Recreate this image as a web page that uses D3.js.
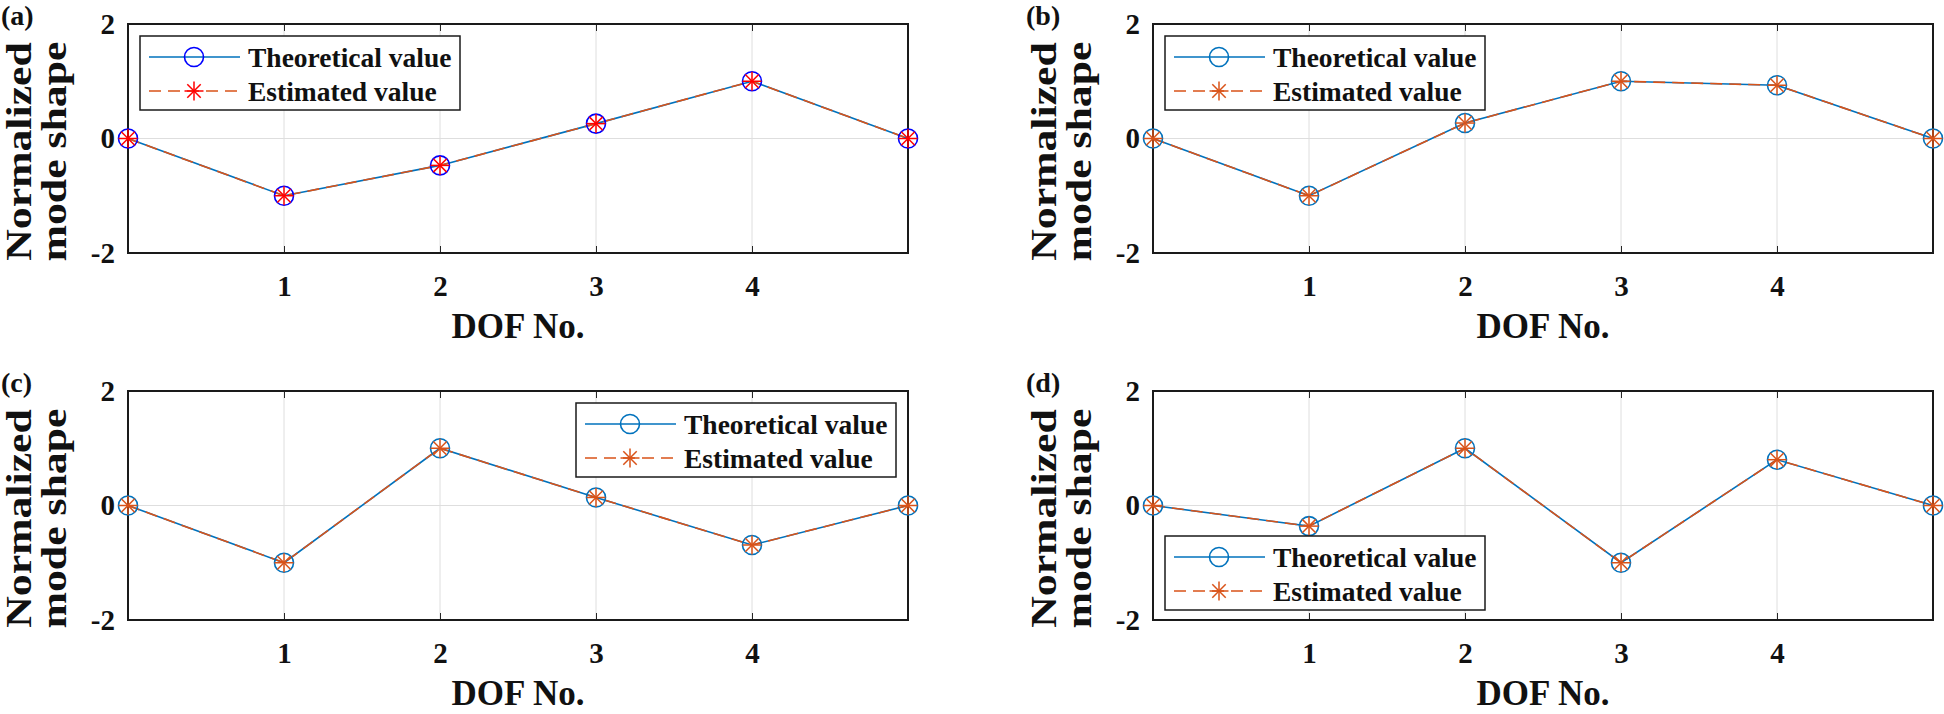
<!DOCTYPE html>
<html><head><meta charset="utf-8">
<script src="https://cdn.jsdelivr.net/npm/d3@7"></script>
<style>html,body{margin:0;padding:0;background:#fff;}svg{display:block;}
svg text{font-family:'Liberation Serif','Times New Roman',Times,serif;font-weight:bold;}</style>
</head><body>
<svg id="chart" width="1944" height="714"></svg>
<script>
// ---- data ----
const dof = [0, 1, 2, 3, 4, 5];
const xTicks = [1, 2, 3, 4];
const yTicks = [-2, 0, 2];
const panelLabels = ["(a)", "(b)", "(c)", "(d)"];
const theoA = [0, -1, -0.47, 0.26, 1, 0];
const estA  = [0, -1, -0.47, 0.26, 1, 0];
const theoB = [0, -1, 0.27, 1, 0.93, 0];
const estB  = [0, -1, 0.27, 1, 0.93, 0];
const theoC = [0, -1, 1, 0.14, -0.69, 0];
const estC  = [0, -1, 1, 0.14, -0.69, 0];
const theoD = [0, -0.36, 1, -1, 0.8, 0];
const estD  = [0, -0.36, 1, -1, 0.8, 0];
const seriesNames = ["Theoretical value", "Estimated value"];
const xLabel = "DOF No.";
const yLabelLines = ["Normalized", "mode shape"];

// ---- layout/style ----
const FONT = "'Liberation Serif','Times New Roman',Times,serif";
const PW = 780, PH = 229;
const panels = [
  {label: panelLabels[0], left: 128, top: 24, theo: theoA, est: estA, legend: "nw", mTheo: "#0000FF", mEst: "#FF0000"},
  {label: panelLabels[1], left: 1153, top: 24, theo: theoB, est: estB, legend: "nw", mTheo: "#0072BD", mEst: "#D95319"},
  {label: panelLabels[2], left: 128, top: 391, theo: theoC, est: estC, legend: "ne", mTheo: "#0072BD", mEst: "#D95319"},
  {label: panelLabels[3], left: 1153, top: 391, theo: theoD, est: estD, legend: "sw", mTheo: "#0072BD", mEst: "#D95319"}
];
const lineTheo = "#0072BD", lineEst = "#D95319";
const R = 9.5;

const svg = d3.select("#chart");

function asterisk(g, x, y, r, color) {
  const a = r;
  const d = a * Math.SQRT1_2;
  const segs = [[-a,0,a,0],[0,-a,0,a],[-d,-d,d,d],[-d,d,d,-d]];
  g.append("g").selectAll("line").data(segs).join("line")
    .attr("x1", s => x + s[0]).attr("y1", s => y + s[1])
    .attr("x2", s => x + s[2]).attr("y2", s => y + s[3])
    .attr("stroke", color).attr("stroke-width", 1.5);
}

panels.forEach(p => {
  const g = svg.append("g").attr("transform", `translate(${p.left},${p.top})`);
  const x = d3.scaleLinear().domain([0, 5]).range([0, PW]);
  const y = d3.scaleLinear().domain([-2, 2]).range([PH, 0]);

  // grid
  g.append("g").selectAll("line").data(xTicks).join("line")
    .attr("x1", d => x(d)).attr("x2", d => x(d)).attr("y1", 0).attr("y2", PH)
    .attr("stroke", "#dedede").attr("stroke-width", 1);
  g.append("g").selectAll("line").data([0]).join("line")
    .attr("x1", 0).attr("x2", PW).attr("y1", d => y(d)).attr("y2", d => y(d))
    .attr("stroke", "#dedede").attr("stroke-width", 1);

  // axes
  const xAxis = g.append("g").attr("transform", `translate(0,${PH})`)
    .call(d3.axisBottom(x).tickValues(xTicks).tickSizeInner(-7).tickSizeOuter(0).tickPadding(22).tickFormat(d3.format("d")));
  const xAxisTop = g.append("g")
    .call(d3.axisTop(x).tickValues(xTicks).tickSizeInner(-7).tickSizeOuter(0).tickFormat(""));
  const yAxis = g.append("g")
    .call(d3.axisLeft(y).tickValues(yTicks).tickSizeInner(0).tickSizeOuter(0).tickPadding(13).tickFormat(d3.format("d")));
  [xAxis, xAxisTop, yAxis].forEach(a => {
    a.select(".domain").remove();
    a.selectAll(".tick line").attr("stroke", "#262626").attr("stroke-width", 1);
    a.selectAll("text").attr("font-family", FONT).attr("font-weight", "bold").attr("fill", "#111");
  });
  xAxis.selectAll("text").attr("font-size", 29).attr("dy", "0.71em");
  yAxis.selectAll("text").attr("font-size", 29).text(d => d < 0 ? "-" + Math.abs(d) : d);

  // box
  g.append("rect").attr("x", 0).attr("y", 0).attr("width", PW).attr("height", PH)
    .attr("fill", "none").attr("stroke", "#1a1a1a").attr("stroke-width", 2);

  // lines
  const ln = d3.line().x((d, i) => x(dof[i])).y(d => y(d));
  g.append("path").datum(p.theo).attr("d", ln).attr("fill", "none")
    .attr("stroke", lineTheo).attr("stroke-width", 1.6);
  g.append("path").datum(p.est).attr("d", ln).attr("fill", "none")
    .attr("stroke", lineEst).attr("stroke-width", 1.6).attr("stroke-dasharray", "12,7");

  // markers
  g.append("g").selectAll("circle").data(p.theo).join("circle")
    .attr("cx", (d, i) => x(dof[i])).attr("cy", d => y(d)).attr("r", R)
    .attr("fill", "none").attr("stroke", p.mTheo).attr("stroke-width", 1.6);
  const mg = g.append("g");
  p.est.forEach((d, i) => asterisk(mg, x(dof[i]), y(d), R, p.mEst));

  // x label
  g.append("text").attr("x", PW / 2).attr("y", PH + 85).attr("text-anchor", "middle")
    .attr("font-family", FONT).attr("font-weight", "bold").attr("font-size", 35).attr("fill", "#111")
    .text(xLabel);

  // y label (two lines, rotated, stretched along its length)
  const yl = g.append("text").attr("transform", `translate(0,${PH / 2 + 13}) rotate(-90) scale(1.25,1)`)
    .attr("text-anchor", "middle").attr("font-family", FONT).attr("font-weight", "bold")
    .attr("font-size", 35).attr("fill", "#111");
  yl.append("tspan").attr("x", 0).attr("y", -97).text(yLabelLines[0]);
  yl.append("tspan").attr("x", 0).attr("y", -62).text(yLabelLines[1]);

  // panel label
  g.append("text").attr("x", -127).attr("y", 1).attr("font-family", FONT).attr("font-weight", "bold")
    .attr("font-size", 28).attr("fill", "#111").text(p.label);

  // legend
  const LW = 320, LH = 74, off = 12;
  let lx, ly;
  if (p.legend === "nw") { lx = off; ly = off; }
  else if (p.legend === "ne") { lx = PW - off - LW; ly = off; }
  else { lx = off; ly = PH - 10 - LH; }
  const lg = g.append("g").attr("transform", `translate(${lx},${ly})`);
  lg.append("rect").attr("width", LW).attr("height", LH).attr("fill", "#fff")
    .attr("stroke", "#1a1a1a").attr("stroke-width", 1.5);
  const rows = [
    {name: seriesNames[0], color: lineTheo, dash: null, mk: "circle", mc: p.mTheo, yy: 21},
    {name: seriesNames[1], color: lineEst, dash: "12,7", mk: "star", mc: p.mEst, yy: 55}
  ];
  rows.forEach(r => {
    lg.append("line").attr("x1", 9).attr("x2", 100).attr("y1", r.yy).attr("y2", r.yy)
      .attr("stroke", r.color).attr("stroke-width", 1.6).attr("stroke-dasharray", r.dash);
    if (r.mk === "circle") {
      lg.append("circle").attr("cx", 54).attr("cy", r.yy).attr("r", R)
        .attr("fill", "none").attr("stroke", r.mc).attr("stroke-width", 1.6);
    } else {
      asterisk(lg, 54, r.yy, R, r.mc);
    }
    lg.append("text").attr("x", 108).attr("y", r.yy).attr("dy", "0.35em")
      .attr("font-family", FONT).attr("font-weight", "bold").attr("font-size", 27.5).attr("fill", "#111")
      .text(r.name);
  });
});
</script>
</body></html>
